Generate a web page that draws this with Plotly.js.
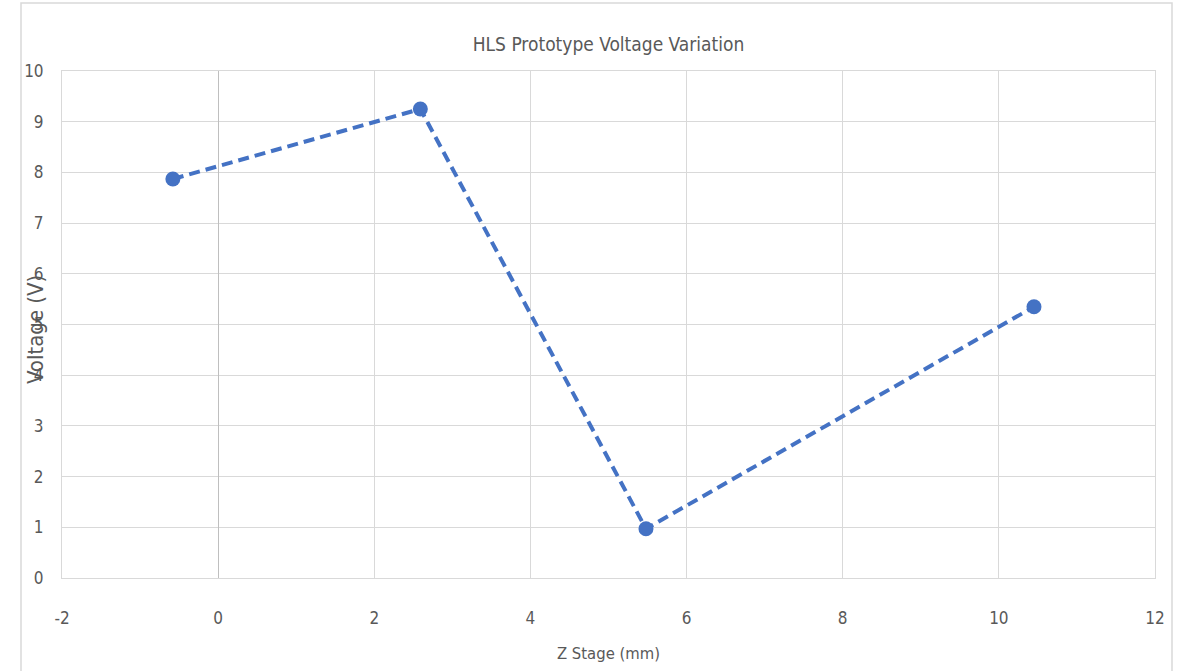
<!DOCTYPE html>
<html>
<head>
<meta charset="utf-8">
<script src="https://cdn.plot.ly/plotly-3.0.1.min.js"></script>
<style>html,body{margin:0;padding:0;background:#fff;}#chart{width:1179px;height:671px;}</style>
</head>
<body>
<div id="chart"></div>
<script>
const zStage = [-0.58, 2.59, 5.48, 10.45];
const voltage = [7.87, 9.25, 0.97, 5.35];
const xTicks = [-2, 0, 2, 4, 6, 8, 10, 12];
const yTicks = [0, 1, 2, 3, 4, 5, 6, 7, 8, 9, 10];
const titleText = "HLS Prototype Voltage Variation";
const xTitle = "Z Stage (mm)";
const yTitle = "Voltage (V)";

const FONT = '"Liberation Sans Narrow", "DejaVu Sans Condensed", "Liberation Sans", sans-serif';
const W = 1179, H = 671, L = 62, R = 24, T = 71, B = 93;
const pw = W - L - R, ph = H - T - B;

const trace = {
  x: zStage, y: voltage, type: 'scatter', mode: 'lines+markers',
  line: {color: '#4472C4', width: 4, dash: '11px,6px'},
  marker: {color: '#4472C4', size: 15},
  hoverinfo: 'skip'
};

const layout = {
  width: W, height: H,
  margin: {l: L, r: R, t: T, b: B},
  paper_bgcolor: '#ffffff', plot_bgcolor: '#ffffff',
  showlegend: false,
  font: {family: FONT, color: '#595959', size: 17},
  title: {text: titleText, x: 0.5, xref: 'paper', xanchor: 'center', y: 1 - 44 / H, yref: 'container', yanchor: 'middle',
          font: {family: FONT, size: 19, color: '#595959'}},
  xaxis: {
    range: [-2, 12], tickvals: xTicks, ticktext: xTicks.map(String),
    showgrid: true, gridcolor: '#d9d9d9', gridwidth: 1,
    zeroline: true, zerolinecolor: '#bfbfbf', zerolinewidth: 1,
    showline: true, mirror: true, linecolor: '#d9d9d9', linewidth: 1,
    ticks: '', ticklabelstandoff: 25,
    tickfont: {family: FONT, size: 17, color: '#595959'},
    title: {text: xTitle, standoff: 20, font: {family: FONT, size: 16.5, color: '#595959'}},
    fixedrange: true
  },
  yaxis: {
    range: [0, 10], tickvals: yTicks, ticktext: yTicks.map(String),
    showgrid: true, gridcolor: '#d9d9d9', gridwidth: 1,
    zeroline: true, zerolinecolor: '#bfbfbf', zerolinewidth: 1,
    showline: true, mirror: true, linecolor: '#d9d9d9', linewidth: 1,
    ticks: '', ticklabelstandoff: 14,
    tickfont: {family: FONT, size: 17, color: '#595959'},
    fixedrange: true
  },
  annotations: [{
    text: yTitle, textangle: -90, xref: 'paper', yref: 'paper',
    x: (35 - L) / pw, y: 0.5 + (324.5 - 330) / ph, xanchor: 'center', yanchor: 'middle',
    showarrow: false, font: {family: FONT, size: 22, color: '#595959'}
  }],
  shapes: [{
    type: 'rect', xref: 'paper', yref: 'paper', layer: 'below',
    x0: (21 - L) / pw, x1: (1172 - L) / pw, y0: -(B + 10) / ph, y1: (H - 3 - B) / ph,
    line: {color: '#d9d9d9', width: 1.5}, fillcolor: 'rgba(0,0,0,0)'
  }]
};

Plotly.newPlot('chart', [trace], layout, {staticPlot: true, displayModeBar: false});
</script>
</body>
</html>
